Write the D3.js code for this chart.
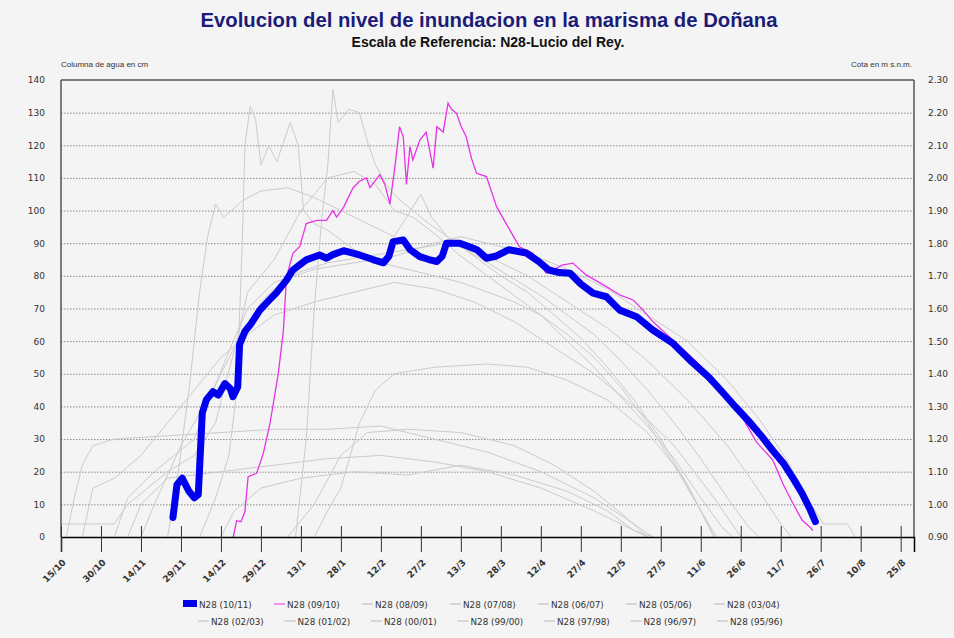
<!DOCTYPE html>
<html>
<head>
<meta charset="utf-8">
<script src="https://cdnjs.cloudflare.com/ajax/libs/d3/7.8.5/d3.min.js"></script>
<style>
body { margin: 0; background: #f4f4f4; }
svg { display: block; }
</style>
</head>
<body>
<div class="chart"></div>
<script>
// eje x: dias contados desde el 15/10, eje y: columna de agua en cm
var tickLabels = ["15/10", "30/10", "14/11", "29/11", "14/12", "29/12", "13/1", "28/1", "12/2", "27/2", "13/3", "28/3",
    "12/4", "27/4", "12/5", "27/5", "11/6", "26/6", "11/7", "26/7", "10/8", "25/8"];
var tickDays = [0, 15, 30, 45, 60, 75, 90, 105, 120, 135, 150, 165, 180, 195, 210, 225, 240, 255, 270, 285, 300, 315];
var cmTicks = [0, 10, 20, 30, 40, 50, 60, 70, 80, 90, 100, 110, 120, 130, 140];
var cotaTicks = [0.9, 1.0, 1.1, 1.2, 1.3, 1.4, 1.5, 1.6, 1.7, 1.8, 1.9, 2.0, 2.1, 2.2, 2.3];

var legendRow1 = ["N28 (10/11)", "N28 (09/10)", "N28 (08/09)", "N28 (07/08)", "N28 (06/07)", "N28 (05/06)", "N28 (03/04)"];
var legendRow2 = ["N28 (02/03)", "N28 (01/02)", "N28 (00/01)", "N28 (99/00)", "N28 (97/98)", "N28 (96/97)", "N28 (95/96)"];

var n28_1011 = [[42,6],[43.5,16],[45.5,18],[48,14],[50,12],[51.5,13],[53,38],[54.5,42],[57,44.5],[59,43.5],[61.5,47],[63.5,45.5],
    [64.5,43],[66.3,46],[67,59],[69,63],[71,65],[74.6,69.5],[78,72.5],[81,75],[84.6,78.7],[87,81.8],[92,84.9],[97,86.4],[99.6,85.4],
    [102,86.5],[106,87.7],[112,86.4],[117,85],[121,84],[123,86],[124.6,90.5],[128.4,91],[131,88],[134.6,85.9],[138,85],[141,84.4],
    [143,86],[144.6,90],[149.6,90],[153,89],[156,88],[159.6,85.4],[163,86],[168,88],[174.6,87],[179,84.5],[183,81.8],[187,81],
    [191,80.8],[195,77.5],[199.6,74.7],[204.6,73.6],[209.6,69.5],[215.9,67.5],[222,63.4],[229.6,59.3],[235.9,54.2],[243,49],
    [248,44.5],[253,39.9],[258,35.5],[263,30.7],[267,26.5],[271,22.6],[275,17.5],[278,13.4],[281,8.5],[283,4.7]];
var n28_0910 = [[64.6,0],[65.9,5],[67.5,4.7],[69,7.8],[70.2,18.5],[73.4,19.5],[75.9,25.6],[78.4,34.8],[81.5,50],[83.4,63],[84.6,79.7],
    [87,86.9],[89.6,89],[92,96],[95.9,97],[99.6,97],[102,100],[103.4,98],[106,101],[109.6,107],[112,109],[114.6,110],[115.9,107],
    [119.6,111],[121.5,108],[123.4,102],[125.5,115],[127,125.7],[128.4,122.6],[129.6,108],[130.9,119.6],[132,115.5],[134.6,121.6],
    [137,124],[139.6,113],[141,125.7],[143.4,124],[145.2,132.9],[146.5,131],[148.4,129.8],[150,126],[152,122.6],[154,116],
    [155.9,111.4],[159.6,110.4],[163.4,101.2],[167,96],[172,88.9],[177,86.9],[182,80.8],[185,82],[188,83.3],[192,83.9],[197,80.3],
    [204.6,76.7],[210,74],[214.6,72.6],[218.4,69.5],[222,66],[230,60],[238,54],[245,48],[250,42],[256,36],[261,29],[267,23.6],
    [271,16],[274.5,10.4],[278,5.2],[281,3],[282,2]];
var n28_0809 = [[52,0],[58,12],[63,25],[66,45],[68,90],[69,120],[71,132],[73,128],[75,114],[78,120],[81,115],[86,127],[89,120],
    [91,100],[95,96],[100,94],[110,88],[120,84],[130,82],[140,80],[150,78],[160,75],[170,72],[180,68],[190,62],[200,55],[210,46],
    [220,35],[230,22],[240,8],[246,0]];
var n28_0708 = [[88,0],[92,30],[95,70],[98,99],[100,113],[102,137],[104,127],[108,131],[112,130],[115,121],[118,114],[122,108],
    [126,104],[132,100],[138,96],[145,92],[152,88],[160,84],[170,79],[180,74],[190,68],[200,62],[210,54],[220,45],[230,35],
    [240,24],[250,12],[258,3],[262,0]];
var n28_0607 = [[40,0],[44,20],[48,45],[52,75],[55,92],[58,102],[61,98],[64,100],[68,103],[75,106],[85,107],[95,104],[105,100],
    [115,96],[125,92],[135,105],[139,98],[145,92],[155,86],[165,80],[175,75],[185,68],[195,61],[205,52],[215,42],[225,30],
    [235,16],[242,5],[245,0]];
var n28_0506 = [[25,0],[30,10],[40,18],[60,20],[80,22],[100,24],[120,25],[140,23],[160,20],[180,15],[200,8],[215,2],[222,0]];
var n28_0304 = [[2,0],[5,12],[8,22],[12,28],[20,30],[40,31],[60,32],[80,33],[100,33],[120,34],[140,30],[160,26],[180,20],
    [200,12],[215,4],[222,0]];
var n28_0203 = [[8,0],[12,15],[20,18],[30,25],[40,35],[50,45],[60,55],[70,62],[80,68],[95,72],[110,75],[125,78],[140,76],
    [155,72],[170,66],[185,58],[200,50],[215,40],[230,28],[245,12],[255,0]];
var n28_0102 = [[30,0],[35,10],[45,28],[55,42],[65,58],[75,72],[85,80],[100,84],[115,86],[130,88],[145,90],[160,86],[175,80],
    [190,72],[205,64],[220,54],[235,42],[250,28],[262,14],[270,4],[274,0]];
var n28_0001 = [[95,0],[100,8],[105,15],[112,35],[118,45],[125,50],[140,52],[160,53],[175,52],[190,48],[205,42],[220,32],
    [232,20],[240,8],[245,0]];
var n28_9900 = [[60,0],[65,8],[75,15],[90,18],[110,20],[130,19],[150,22],[170,19],[190,14],[205,8],[215,2],[220,0]];
var n28_9798 = [[85,0],[95,10],[105,25],[115,32],[130,33],[150,32],[170,28],[185,22],[200,14],[212,6],[220,0]];
var n28_9697 = [[20,0],[25,12],[35,20],[50,30],[62,55],[70,70],[80,78],[95,82],[110,84],[125,86],[140,90],[150,92],[160,90],
    [175,87],[190,82],[205,76],[220,68],[235,60],[250,48],[262,36],[272,24],[280,12],[286,4],[295,4],[298,0]];
var n28_9596 = [[0,4],[20,4],[25,10],[40,20],[50,25],[58,35],[62,48],[66,60],[70,75],[80,85],[90,100],[100,110],[110,112],
    [118,108],[125,100],[132,98],[140,93],[150,86],[160,80],[170,74],[180,68],[190,60],[200,52],[210,43],[220,34],[230,24],
    [240,12],[248,3],[252,0]];

var greySeries = [n28_0809, n28_0708, n28_0607, n28_0506, n28_0304, n28_0203, n28_0102, n28_0001, n28_9900, n28_9798, n28_9697, n28_9596];

var W = 954, H = 638;
var plotL = 61, plotR = 914, plotT = 80, plotB = 537;
var x = d3.scaleLinear().domain([0, 320]).range([plotL, plotR]);
var y = d3.scaleLinear().domain([0, 140]).range([plotB, plotT]);
var yCota = d3.scaleLinear().domain([0.9, 2.3]).range([plotB, plotT]);
var font = "'DejaVu Sans', sans-serif";
var narrow = "'Liberation Sans Narrow', 'Liberation Sans', sans-serif";

var svg = d3.select(".chart").append("svg").attr("width", W).attr("height", H);
svg.append("rect").attr("width", W).attr("height", H).attr("fill", "#f4f4f4");

// titulos
svg.append("text").attr("x", 489).attr("y", 27).attr("text-anchor", "middle").attr("font-family", narrow)
    .attr("font-weight", "bold").attr("font-size", 20.3).attr("fill", "#1c1c78")
    .text("Evolucion del nivel de inundacion en la marisma de Doñana");
svg.append("text").attr("x", 488).attr("y", 47).attr("text-anchor", "middle").attr("font-family", narrow)
    .attr("font-weight", "bold").attr("font-size", 14).attr("fill", "#111")
    .text("Escala de Referencia: N28-Lucio del Rey.");
svg.append("text").attr("x", 61).attr("y", 67).attr("font-family", narrow).attr("font-size", 8).attr("fill", "#333")
    .text("Columna de agua en cm");
svg.append("text").attr("x", 912).attr("y", 67).attr("text-anchor", "end").attr("font-family", narrow).attr("font-size", 8)
    .attr("fill", "#333").text("Cota en m s.n.m.");

// rejilla punteada
var grid = svg.append("g").attr("transform", "translate(" + plotL + ",0)")
    .call(d3.axisLeft(y).tickValues(cmTicks.slice(1, -1)).tickSize(-(plotR - plotL)).tickFormat(""));
grid.select(".domain").remove();
grid.selectAll("line").attr("stroke", "#8a8a8a").attr("stroke-dasharray", "1.5,1.5");

// ejes y (solo etiquetas)
var yl = svg.append("g").attr("transform", "translate(" + (plotL - 16) + ",0)")
    .call(d3.axisLeft(y).tickValues(cmTicks).tickSize(0).tickPadding(0));
yl.select(".domain").remove();
yl.selectAll("text").attr("font-family", font).attr("font-size", 9).attr("fill", "#333");
var yr = svg.append("g").attr("transform", "translate(" + (plotR + 14) + ",0)")
    .call(d3.axisRight(yCota).tickValues(cotaTicks).tickSize(0).tickPadding(0).tickFormat(d3.format(".2f")));
yr.select(".domain").remove();
yr.selectAll("text").attr("font-family", font).attr("font-size", 9).attr("fill", "#333");

// series
var line = d3.line().x(function(d) { return x(d[0]); }).y(function(d) { return y(d[1]); });
var plot = svg.append("g");
for (var i = 0; i < greySeries.length; i++) {
    plot.append("path").datum(greySeries[i]).attr("d", line).attr("fill", "none").attr("stroke", "#cbcbcb").attr("stroke-width", 1);
}
plot.append("path").datum(n28_0910).attr("d", line).attr("fill", "none").attr("stroke", "#e832e8").attr("stroke-width", 1.3);
plot.append("path").datum(n28_1011).attr("d", line).attr("fill", "none").attr("stroke", "#0000ee").attr("stroke-width", 7)
    .attr("stroke-linejoin", "round").attr("stroke-linecap", "round");

// marco
svg.append("line").attr("x1", plotL).attr("x2", plotR).attr("y1", plotT).attr("y2", plotT).attr("stroke", "#555").attr("stroke-width", 1.5);
svg.append("line").attr("x1", plotL).attr("x2", plotL).attr("y1", plotT).attr("y2", plotB).attr("stroke", "#555").attr("stroke-width", 1.5);
svg.append("line").attr("x1", plotR).attr("x2", plotR).attr("y1", plotT).attr("y2", plotB).attr("stroke", "#555").attr("stroke-width", 1.5);

// eje x
var xa = svg.append("g").attr("transform", "translate(0," + plotB + ")")
    .call(d3.axisBottom(x).tickValues(tickDays).tickSize(15).tickFormat(function(d, i) { return tickLabels[i]; }));
xa.select(".domain").attr("stroke", "#000").attr("stroke-width", 1.5);
xa.selectAll(".tick line").attr("y1", -11).attr("stroke", "#333");
xa.selectAll(".tick text").attr("font-family", font).attr("font-size", 9).attr("font-weight", "bold").attr("fill", "#333")
    .attr("text-anchor", "end").attr("dy", 0).attr("y", 0)
    .attr("transform", "translate(5,26) rotate(-45)");

// leyenda
function legendRow(names, y0, x0, step) {
    for (var i = 0; i < names.length; i++) {
        var g = svg.append("g").attr("transform", "translate(" + (x0 + i * step) + "," + y0 + ")");
        if (names[i] == "N28 (10/11)") {
            g.append("rect").attr("x", 0).attr("y", -4).attr("width", 14).attr("height", 7).attr("fill", "#0000ee");
        } else {
            g.append("line").attr("x1", 3).attr("x2", 14).attr("y1", 0).attr("y2", 0)
                .attr("stroke", names[i] == "N28 (09/10)" ? "#e832e8" : "#b8b8b8").attr("stroke-width", 1);
        }
        g.append("text").attr("x", 16).attr("y", 3.5).attr("font-family", font).attr("font-size", 8.8).attr("fill", "#333").text(names[i]);
    }
}
legendRow(legendRow1, 604, 183, 88);
legendRow(legendRow2, 621, 195, 86.5);
</script>
</body>
</html>
